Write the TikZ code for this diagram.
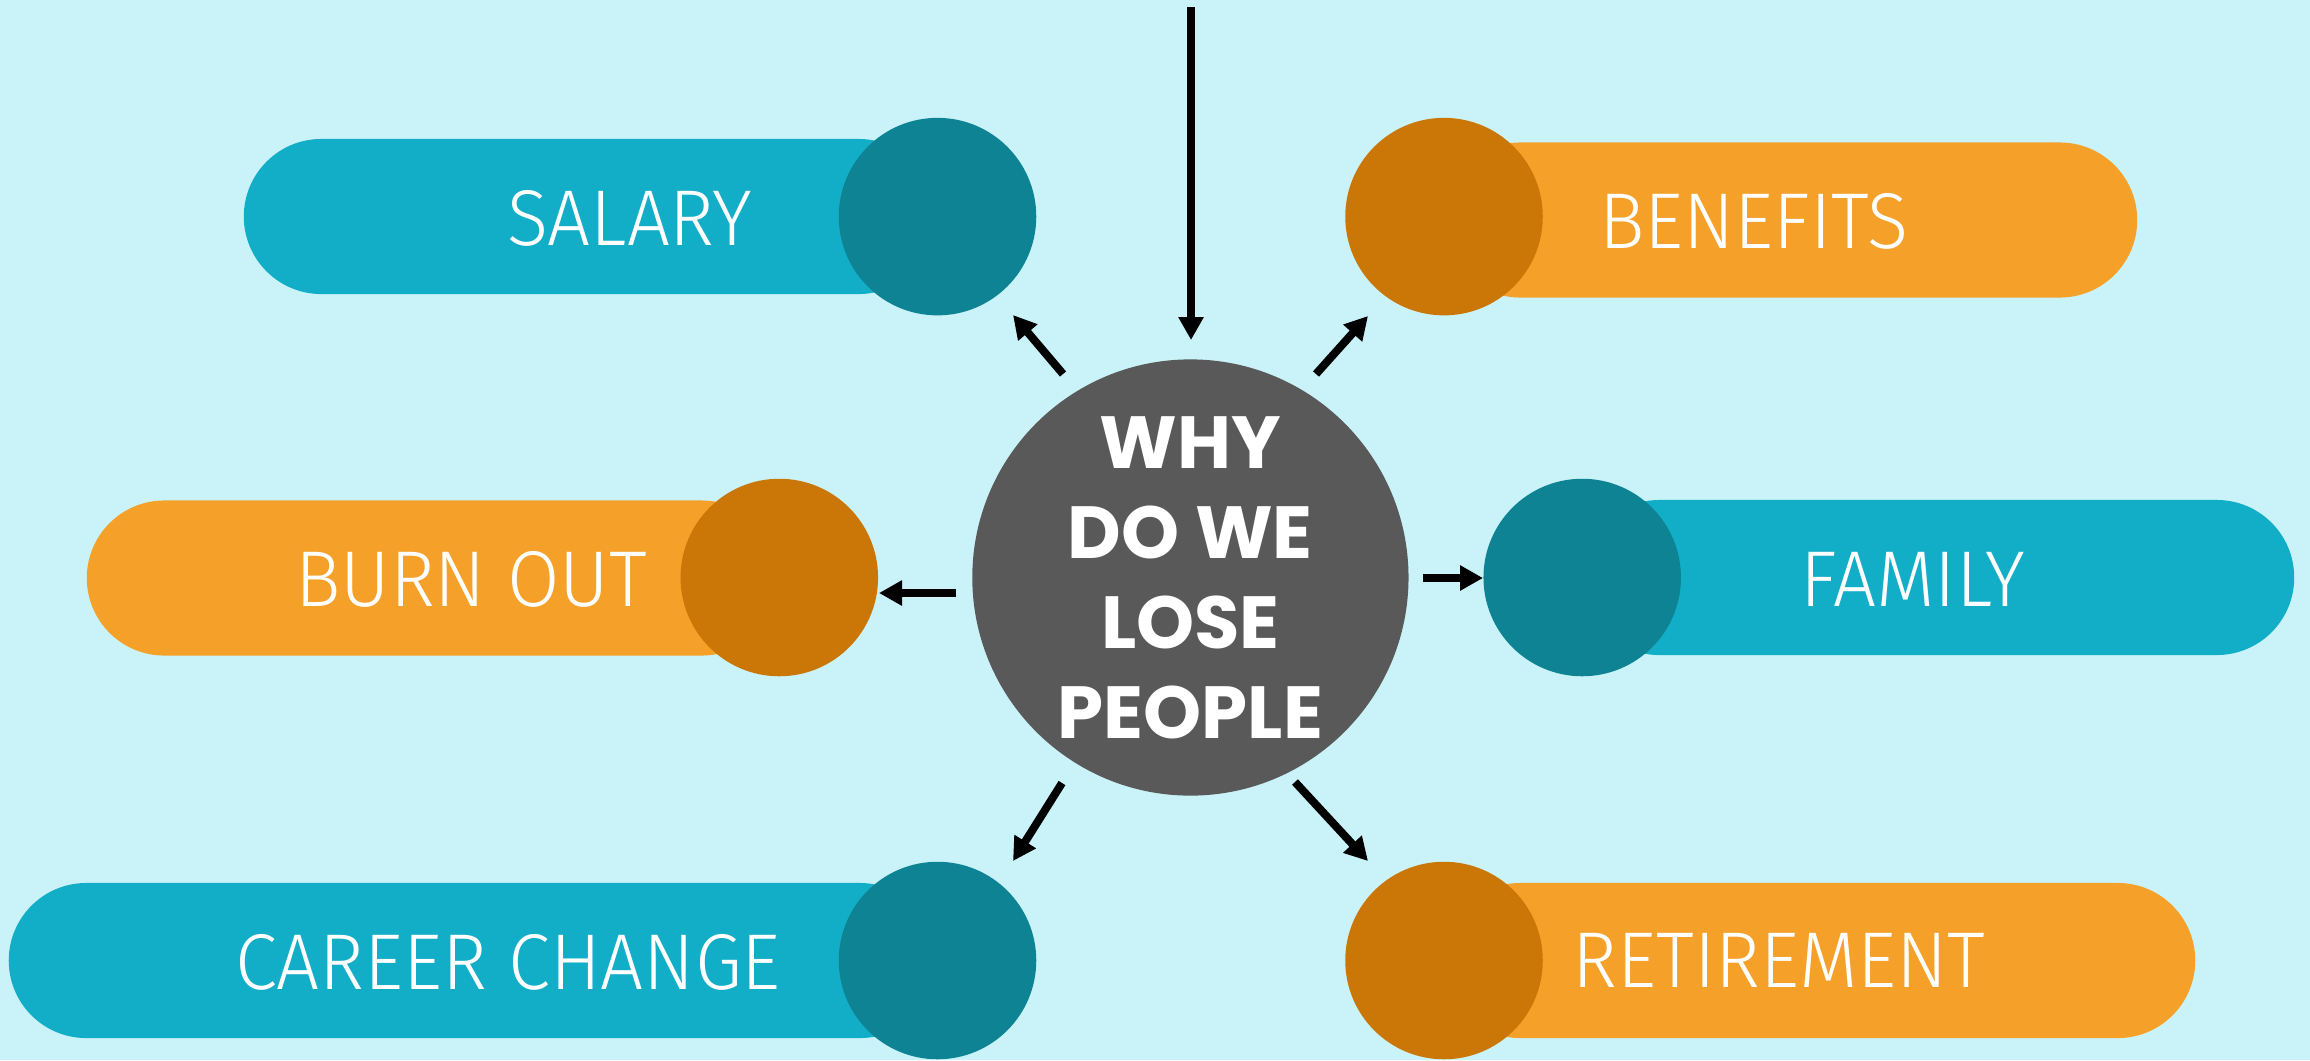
\documentclass[tikz,border=0pt]{standalone}
\usepackage{fontspec}
\usetikzlibrary{arrows.meta}
\setmainfont{Fira Sans Light}[FakeStretch=0.96]
\newfontfamily\whyfont{Poppins}[BoldFont={* Bold}]

\definecolor{bgblue}{HTML}{C9F3F8}
\definecolor{teal}{HTML}{12AEC8}
\definecolor{darkteal}{HTML}{0E8394}
\definecolor{orange}{HTML}{F5A028}
\definecolor{darkorange}{HTML}{CB7708}
\definecolor{coregray}{HTML}{595959}

\begin{document}
\begin{tikzpicture}[
       x=0.01cm, y=-0.01cm,
       pill/.style={
         rectangle,
         rounded corners=0.775cm,
         minimum height=1.55cm,
         inner sep=0pt
       },
       disc/.style={
         circle,
         inner sep=0pt,
         minimum size=1.974cm
       },
       label/.style={
         text=white,
         font=\fontsize{22.5}{26}\selectfont
       },
       arr/.style={
         line width=0.08cm,
         -{Triangle[length=0.23cm,width=0.24cm]}
       }
     ]

       \fill [bgblue] (0,0) rectangle (2310,1060);
       \useasboundingbox (0,0) rectangle (2310,1060);

       % pills, then the discs on top
       \node (p1) at (590,216.5) [pill, fill=teal, minimum width=6.92cm]{};
       \node (p2) at (1790,220) [pill, fill=orange, minimum width=6.94cm]{};
       \node (p3) at (433,578) [pill, fill=orange, minimum width=6.92cm]{};
       \node (p4) at (1938,577.5) [pill, fill=teal, minimum width=7.12cm]{};
       \node (p5) at (473,960.5) [pill, fill=teal, minimum width=9.28cm]{};
       \node (p6) at (1819,960.5) [pill, fill=orange, minimum width=7.52cm]{};

       \node (d1) at (937.5,216.6) [disc, fill=darkteal]{};
       \node (d2) at (1444,216.6) [disc, fill=darkorange]{};
       \node (d3) at (779.3,577.5) [disc, fill=darkorange]{};
       \node (d4) at (1582.2,577.5) [disc, fill=darkteal]{};
       \node (d5) at (937.5,960.5) [disc, fill=darkteal]{};
       \node (d6) at (1444,960.5) [disc, fill=darkorange]{};

       \node (t1) at (630,218.5) [label]{SALARY};
       \node (t2) at (1754,221.7) [label]{BENEFITS};
       \node (t3) at (471,579) [label]{BURN OUT};
       \node (t4) at (1913,579) [label]{FAMILY};
       \node (t5) at (508,962) [label]{CAREER CHANGE};
       \node (t6) at (1779,960.5) [label]{RETIREMENT};

       \node (why) at (1190.4,577.5) [circle, fill=coregray, inner sep=0pt,
         minimum size=4.36cm, text=white, align=center,
         font=\whyfont\bfseries\fontsize{21}{25.6}\selectfont]
         {WHY\\DO WE\\LOSE\\PEOPLE};

       % arrow ends
       \coordinate (top) at (1191,7);
       \coordinate (c0) at (1191,340);
       \coordinate (c1) at (1063,374);
       \coordinate (e1) at (1013,315);
       \coordinate (c2) at (1316,374);
       \coordinate (e2) at (1368,316);
       \coordinate (c3) at (956,593);
       \coordinate (e3) at (879,593);
       \coordinate (c4) at (1423,578);
       \coordinate (e4) at (1483,578);
       \coordinate (c5) at (1062,783);
       \coordinate (e5) at (1013,861);
       \coordinate (c6) at (1295,782);
       \coordinate (e6) at (1368,861);

       \draw [arr] (top) -- (c0);
       \draw [arr] (c1) -- (e1);
       \draw [arr] (c2) -- (e2);
       \draw [arr] (c3) -- (e3);
       \draw [arr] (c4) -- (e4);
       \draw [arr] (c5) -- (e5);
       \draw [arr] (c6) -- (e6);

\end{tikzpicture}
\end{document}
